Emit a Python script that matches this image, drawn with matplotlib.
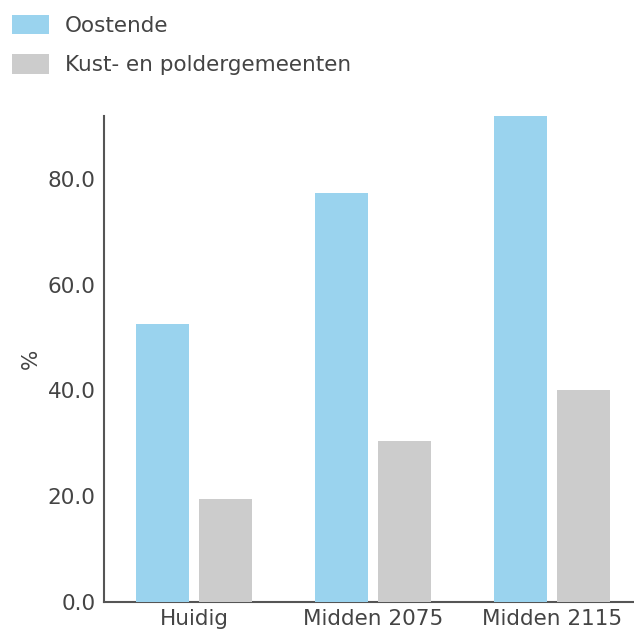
import numpy as np
import matplotlib.pyplot as plt

categories = ["Huidig", "Midden 2075", "Midden 2115"]
oostende = [52.6, 77.4, 91.9]
kust = [19.5, 30.4, 40.1]
series_names = ["Oostende", "Kust- en poldergemeenten"]
yticks = [0, 20, 40, 60, 80]

blue = "#9ad3ee"
grey = "#cccccc"
txt = "#444444"

plt.rcParams['font.family'] = ['DejaVu Sans']

fig = plt.figure(figsize=(6.34, 6.32), dpi=100)
ax = fig.add_axes([104/634, 30/632, 530/634, 486/632])

x = np.arange(len(categories))
w = 0.296
off = 0.176
b1 = ax.bar(x - off, oostende, w, color=blue, label=series_names[0], zorder=1)
b2 = ax.bar(x + off, kust, w, color=grey, label=series_names[1], zorder=1)

ax.set_xlim(-0.503, 2.46)
ax.set_ylim(0, max(oostende))
ax.set_xticks(x)
ax.set_xticklabels(categories)
ax.set_yticks(yticks)
ax.set_yticklabels([f"{v:.1f}" for v in yticks])
ax.tick_params(axis='both', length=0, labelsize=15.5, colors=txt)
ax.tick_params(axis='y', pad=6)
ax.tick_params(axis='x', pad=5)
ax.set_ylabel("%", fontsize=15.5, color=txt, labelpad=5)

for s in ["top", "right"]:
    ax.spines[s].set_visible(False)
for s in ["left", "bottom"]:
    ax.spines[s].set_color("#555555")
    ax.spines[s].set_linewidth(1.5)
    ax.spines[s].set_zorder(0)

fig.legend(handles=[b1, b2], labels=series_names, loc="upper left",
           bbox_to_anchor=(-0.005, 1.0), frameon=False, fontsize=15.5,
           handlelength=1.72, handleheight=1.0, handletextpad=0.74,
           labelspacing=0.85, borderaxespad=0.3, labelcolor=txt)

fig.savefig("out.png", dpi=100)
